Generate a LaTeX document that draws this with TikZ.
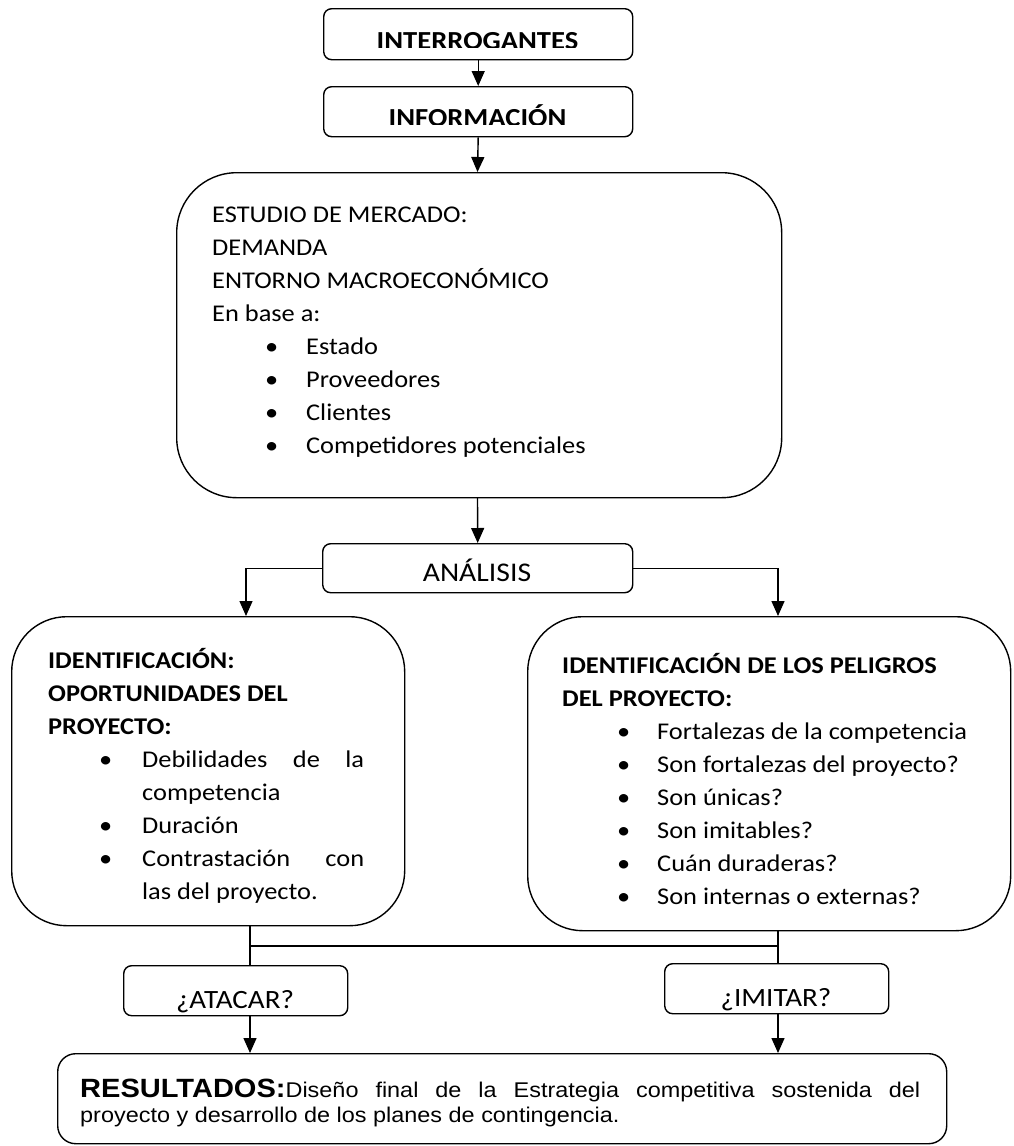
\documentclass[tikz,border=0pt]{standalone}
\usepackage{fontspec}
\setmainfont{Carlito}[FakeStretch=1.1]
\newfontfamily\arialf{Liberation Sans}[FakeStretch=1.1]
\usetikzlibrary{arrows.meta}
\begin{document}
\begin{tikzpicture}[x=1pt,y=-1pt,
  box/.style={draw, line width=1.4pt, inner sep=0pt, anchor=north west},
  txt/.style={inner sep=0pt, anchor=north west, align=left},
  ctr/.style={inner sep=0pt, anchor=base},
  arr/.style={line width=1.4pt, -{Triangle[length=15pt,width=13pt]}},
  ln/.style={line width=1.4pt},
  every node/.style={font=\fontsize{24}{33.1}\selectfont}
]
\useasboundingbox[fill=white] (0,0) rectangle (1013,1146);

% boxes
\node[box, rounded corners=8pt, minimum width=309pt, minimum height=51pt] (int) at (323,8) {};
\node[box, rounded corners=8pt, minimum width=309pt, minimum height=50pt] (info) at (323,86) {};
\node[box, rounded corners=60pt, minimum width=605pt, minimum height=325pt] (mkt) at (176,172) {};
\node[box, rounded corners=8pt, minimum width=310pt, minimum height=49pt] (ana) at (322,543) {};
\node[box, rounded corners=55pt, minimum width=393pt, minimum height=309pt] (opp) at (11,616) {};
\node[box, rounded corners=55pt, minimum width=483pt, minimum height=314pt] (risk) at (527,616) {};
\node[box, rounded corners=8pt, minimum width=224pt, minimum height=50pt] (atk) at (123,965) {};
\node[box, rounded corners=8pt, minimum width=224pt, minimum height=50pt] (imi) at (664,963) {};
\node[box, rounded corners=18pt, minimum width=889pt, minimum height=90pt] (res) at (57,1053) {};

% single-line texts
\begin{scope}
\clip (323,8) rectangle (632,47.5);
\node[ctr, font=\fontsize{26}{30}\selectfont\bfseries] (intt) at (477.5,49) {INTERROGANTES};
\end{scope}
\begin{scope}
\clip (323,86) rectangle (632,124.5);
\node[ctr, font=\fontsize{26}{30}\selectfont\bfseries] (infot) at (477.5,126.5) {INFORMACIÓN};
\end{scope}
\node[ctr, font=\fontsize{27}{30}\selectfont] (anat) at (477,581) {ANÁLISIS};
\node[ctr, font=\fontsize{26.4}{30}\selectfont] (atkt) at (235,1008.5) {¿ATACAR?};
\node[ctr, font=\fontsize{26.4}{30}\selectfont] (imit) at (776,1006.5) {¿IMITAR?};

% multi-line texts (first baseline = node y + 25)
\node[txt] (mktt) at (212,197) {\rule{0pt}{25pt}ESTUDIO DE MERCADO:\\
DEMANDA\\
ENTORNO MACROECONÓMICO\\
En base a:\\
\hspace*{53pt}\makebox[41pt][l]{•}Estado\\
\hspace*{53pt}\makebox[41pt][l]{•}Proveedores\\
\hspace*{53pt}\makebox[41pt][l]{•}Clientes\\
\hspace*{53pt}\makebox[41pt][l]{•}Competidores potenciales};

\node[txt] (oppt) at (48,643) {\rule{0pt}{25pt}\textbf{IDENTIFICACIÓN:}\\
\textbf{OPORTUNIDADES DEL}\\
\textbf{PROYECTO:}\\
\hspace*{51pt}\makebox[43pt][l]{•}\makebox[222pt][s]{Debilidades de la}\\
\hspace*{94pt}competencia\\
\hspace*{51pt}\makebox[43pt][l]{•}Duración\\
\hspace*{51pt}\makebox[43pt][l]{•}\makebox[222pt][s]{Contrastación con}\\
\hspace*{94pt}las del proyecto.};

\node[txt] (riskt) at (562,648) {\rule{0pt}{25pt}\textbf{IDENTIFICACIÓN DE LOS PELIGROS}\\
\textbf{DEL PROYECTO:}\\
\hspace*{55pt}\makebox[40pt][l]{•}Fortalezas de la competencia\\
\hspace*{55pt}\makebox[40pt][l]{•}Son fortalezas del proyecto?\\
\hspace*{55pt}\makebox[40pt][l]{•}Son únicas?\\
\hspace*{55pt}\makebox[40pt][l]{•}Son imitables?\\
\hspace*{55pt}\makebox[40pt][l]{•}Cuán duraderas?\\
\hspace*{55pt}\makebox[40pt][l]{•}Son internas o externas?};

\node[txt, font=\arialf\fontsize{21.3}{25}\selectfont] (rest) at (80,1072.5) {\rule{0pt}{25pt}\makebox[840pt][s]{{\fontsize{26.4}{25}\selectfont\bfseries RESULTADOS:}Diseño final de la Estrategia competitiva sostenida del}\\
proyecto y desarrollo de los planes de contingencia.};

% connector points
\coordinate (oppin) at (246,616);
\coordinate (riskin) at (778,616);
\coordinate (oppout) at (250,925);
\coordinate (riskout) at (778,930);
\coordinate (jl) at (250,946);
\coordinate (jr) at (778,946);
\coordinate (atkin) at (250,965);
\coordinate (imiin) at (778,963);
\coordinate (atkout) at (250,1015);
\coordinate (imiout) at (778,1013);
\coordinate (resl) at (250,1053);
\coordinate (resr) at (778,1053);

\draw[arr] (int.south) -- (info.north);
\draw[arr] (info.south) -- (477.5,172);
\draw[arr] (477.5,497) -- (ana.north);
\draw[arr] (ana.west) -| (oppin);
\draw[arr] (ana.east) -| (riskin);
\draw[ln] (oppout) -- (atkin);
\draw[ln] (riskout) -- (imiin);
\draw[ln] (jl) -- (jr);
\draw[arr] (atkout) -- (resl);
\draw[arr] (imiout) -- (resr);
\end{tikzpicture}
\end{document}
